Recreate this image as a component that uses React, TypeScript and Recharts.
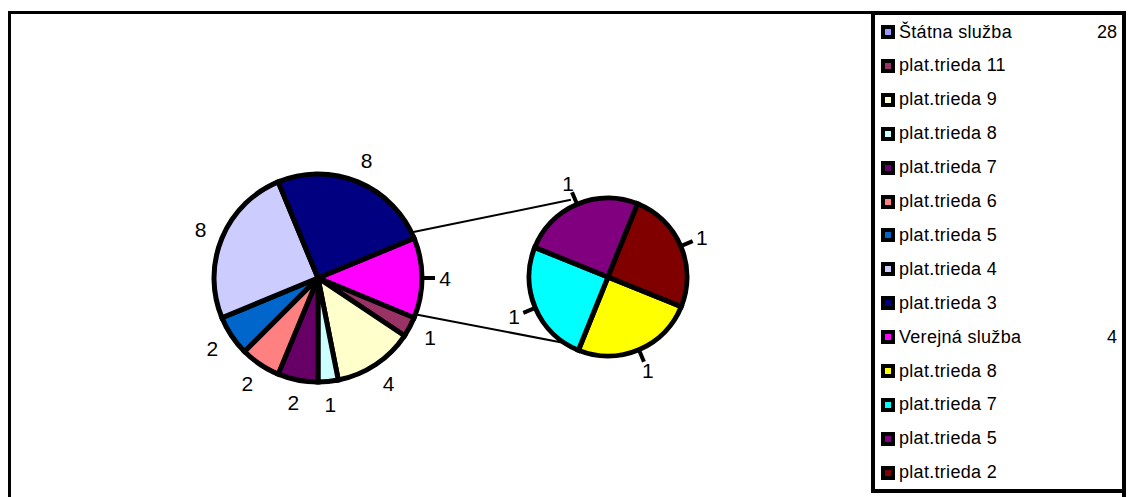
import React from 'react';
import { PieChart, Pie, Cell } from 'recharts';

// Štátna služba broken down by pay class (main pie)
const stateClasses = ['plat.trieda 11', 'plat.trieda 9', 'plat.trieda 8', 'plat.trieda 7', 'plat.trieda 6', 'plat.trieda 5', 'plat.trieda 4', 'plat.trieda 3'];
const stateCounts = [1, 4, 1, 2, 2, 2, 8, 8];

// Verejná služba broken down by pay class (secondary pie)
const publicClasses = ['plat.trieda 8', 'plat.trieda 7', 'plat.trieda 5', 'plat.trieda 2'];
const publicCounts = [1, 1, 1, 1];

const groupNames = ['Štátna služba', 'Verejná služba'];

const stateColors = ['#993366', '#FFFFCC', '#CCFFFF', '#660066', '#FF8080', '#0066CC', '#CCCCFF', '#000080'];
const publicColors = ['#FFFF00', '#00FFFF', '#800080', '#800000'];
const groupColors = ['#9999FF', '#FF00FF'];

const sum = (a: number[]) => a.reduce((s, v) => s + v, 0);
const stateTotal = sum(stateCounts);
const publicTotal = sum(publicCounts);

const mainData = [
  { name: groupNames[1], value: publicTotal, color: groupColors[1], leader: true },
  ...stateClasses.map((name, i) => ({ name, value: stateCounts[i], color: stateColors[i], leader: false })),
];
const subData = publicClasses.map((name, i) => ({ name, value: publicCounts[i], color: publicColors[i], leader: true }));

const legendRows = [
  { name: groupNames[0], color: groupColors[0], total: stateTotal },
  ...stateClasses.map((name, i) => ({ name, color: stateColors[i], total: null as number | null })),
  { name: groupNames[1], color: groupColors[1], total: publicTotal },
  ...publicClasses.map((name, i) => ({ name, color: publicColors[i], total: null as number | null })),
];

const MAIN = { cx: 313, cy: 273, r: 104 };
const SUB = { cx: 603, cy: 272, r: 79 };
const RAD = Math.PI / 180;
const FONT = '"Liberation Sans", Arial, sans-serif';

const polar = (cx: number, cy: number, r: number, deg: number) => ({
  x: cx + r * Math.cos(-deg * RAD),
  y: cy + r * Math.sin(-deg * RAD),
});

const renderLabel = (props: any) => {
  const { cx, cy, midAngle, outerRadius, value, payload, index } = props;
  const leader = payload?.leader ?? props.leader;
  const p = polar(cx, cy, outerRadius + 23, midAngle);
  const a = polar(cx, cy, outerRadius + 2, midAngle);
  const b = polar(cx, cy, outerRadius + 13, midAngle);
  return (
    <g key={`lbl-${index}`}>
      {leader && <line x1={a.x} y1={a.y} x2={b.x} y2={b.y} stroke="#000" strokeWidth={4} />}
      <text x={p.x} y={p.y} textAnchor="middle" dominantBaseline="central" fontSize={21} fontFamily={FONT} fill="#000">
        {value}
      </text>
    </g>
  );
};

export default function App() {
  const t1 = polar(MAIN.cx, MAIN.cy, MAIN.r + 2, 22.5);
  const t2 = polar(SUB.cx, SUB.cy, SUB.r, 114);
  const b1 = polar(MAIN.cx, MAIN.cy, MAIN.r + 2, -22.5);
  const b2 = polar(SUB.cx, SUB.cy, SUB.r, -114);

  return (
    <div style={{ position: 'absolute', left: 0, top: 0, width: 1131, height: 497, overflow: 'hidden', background: '#fff', fontFamily: FONT }}>
      <div style={{ position: 'absolute', left: 8, top: 11, width: 1118, height: 500, boxSizing: 'border-box', borderTop: '3px solid #000', borderLeft: '3px solid #000', borderRight: '4px solid #000' }} />

      <svg width={1131} height={497} style={{ position: 'absolute', left: 0, top: 0, pointerEvents: 'none' }}>
        <line x1={t1.x} y1={t1.y} x2={t2.x} y2={t2.y} stroke="#000" strokeWidth={2} />
        <line x1={b1.x} y1={b1.y} x2={b2.x} y2={b2.y} stroke="#000" strokeWidth={2} />
      </svg>

      <div style={{ position: 'absolute', left: 0, top: 0 }}>
        <PieChart width={860} height={497}>
          <Pie
            data={mainData}
            dataKey="value"
            nameKey="name"
            cx={MAIN.cx}
            cy={MAIN.cy}
            outerRadius={MAIN.r}
            startAngle={22.5}
            endAngle={-337.5}
            stroke="#000"
            strokeWidth={5}
            label={renderLabel}
            labelLine={false}
            isAnimationActive={false}
          >
            {mainData.map((d) => (
              <Cell key={d.name} fill={d.color} stroke="#000" strokeWidth={5} />
            ))}
          </Pie>
          <Pie
            data={subData}
            dataKey="value"
            nameKey="name"
            cx={SUB.cx}
            cy={SUB.cy}
            outerRadius={SUB.r}
            startAngle={-22}
            endAngle={-382}
            stroke="#000"
            strokeWidth={5}
            label={renderLabel}
            labelLine={false}
            isAnimationActive={false}
          >
            {subData.map((d) => (
              <Cell key={d.name} fill={d.color} stroke="#000" strokeWidth={5} />
            ))}
          </Pie>
        </PieChart>
      </div>

      <div style={{ position: 'absolute', left: 871, top: 11, width: 255, height: 482, boxSizing: 'border-box', border: '4px solid #000', background: '#fff' }}>
        {legendRows.map((row, i) => (
          <div key={i} style={{ position: 'absolute', left: 0, right: 0, top: 6 + i * 33.9, height: 22, display: 'flex', alignItems: 'center' }}>
            <div style={{ position: 'absolute', left: 6, top: 4, width: 14, height: 14, boxSizing: 'border-box', border: '4px solid #000', background: row.color }} />
            <span style={{ position: 'absolute', left: 24, fontSize: 18, letterSpacing: 0.3, color: '#000', whiteSpace: 'nowrap' }}>{row.name}</span>
            {row.total !== null && (
              <span style={{ position: 'absolute', right: 5, fontSize: 18, color: '#000' }}>{row.total}</span>
            )}
          </div>
        ))}
      </div>
    </div>
  );
}
